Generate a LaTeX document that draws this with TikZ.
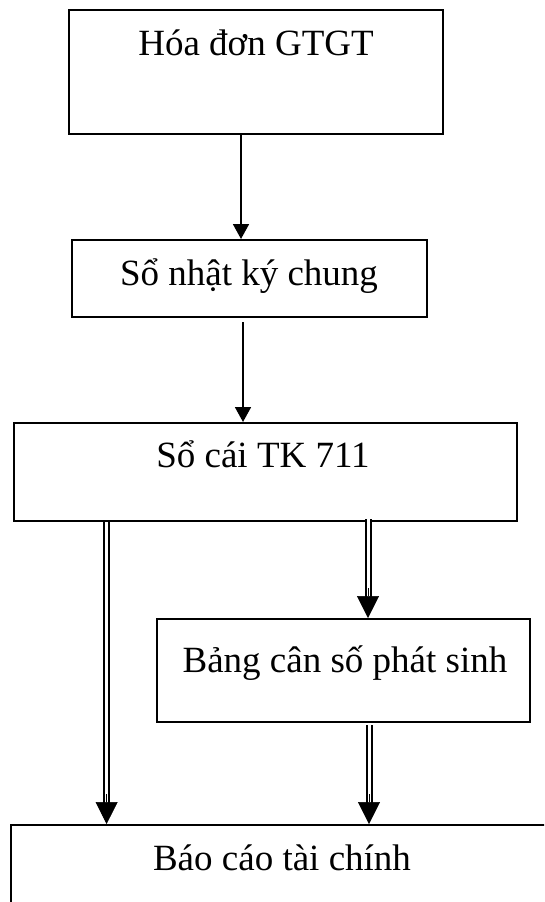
\documentclass[tikz,border=0pt]{standalone}
\usepackage{fontspec}
\setmainfont{Liberation Serif}
\usetikzlibrary{arrows.meta}
\begin{document}
\begin{tikzpicture}[x=1pt,y=-1pt,
  box/.style={draw, line width=2pt, inner sep=0pt, rectangle},
  lbl/.style={anchor=base, inner sep=0pt, font=\fontsize{37pt}{44pt}\selectfont},
  sarr/.style={line width=1.8pt, -{Triangle[length=15pt,width=16pt]}},
  dbl/.style={line width=2pt, double, double distance=3pt, shorten >=20pt},
  dhead/.style={line width=0.5pt, -{Triangle[length=22pt,width=22pt]}}]
\useasboundingbox (0,0) rectangle (544,902);
\clip (0,0) rectangle (544,902);

% boxes
\node[box, minimum width=374pt, minimum height=124pt] (b1) at (256,72) {};
\node[box, minimum width=355pt, minimum height=77pt] (b2) at (249.5,278.5) {};
\node[box, minimum width=503pt, minimum height=98pt] (b3) at (265.5,472) {};
\node[box, minimum width=373pt, minimum height=103pt] (b4) at (343.5,670.5) {};
\node[box, minimum width=542pt, minimum height=110pt] (b5) at (282,880) {};

% labels
\node[lbl] (t1) at (256,55) {Hóa đơn GTGT};
\node[lbl] (t2) at (249,285) {Sổ nhật ký chung};
\node[lbl] (t3) at (263,467) {Sổ cái TK 711};
\node[lbl] (t4) at (345,672) {Bảng cân số phát sinh};
\node[lbl] (t5) at (282,870) {Báo cáo tài chính};

% single arrows
\coordinate (x1) at (241,0);
\coordinate (x2) at (243,0);
\draw[sarr] (b1.south -| x1) -- (b2.north -| x1);
\draw[sarr] ([yshift=-4pt]b2.south -| x2) -- (b3.north -| x2);

% double arrows
\coordinate (xl) at (106.6,0);
\coordinate (xr) at (368,0);
\coordinate (xr2) at (369,0);
\draw[dbl] (b3.south -| xl) -- (b5.north -| xl);
\draw[dhead] ([yshift=30pt]b5.north -| xl) -- (b5.north -| xl);
\draw[dbl] ([yshift=3pt]b3.south -| xr) -- (b4.north -| xr);
\draw[dhead] ([yshift=30pt]b4.north -| xr) -- (b4.north -| xr);
\draw[dbl] ([yshift=-2pt]b4.south -| xr2) -- (b5.north -| xr2);
\draw[dhead] ([yshift=30pt]b5.north -| xr2) -- (b5.north -| xr2);
\end{tikzpicture}
\end{document}
